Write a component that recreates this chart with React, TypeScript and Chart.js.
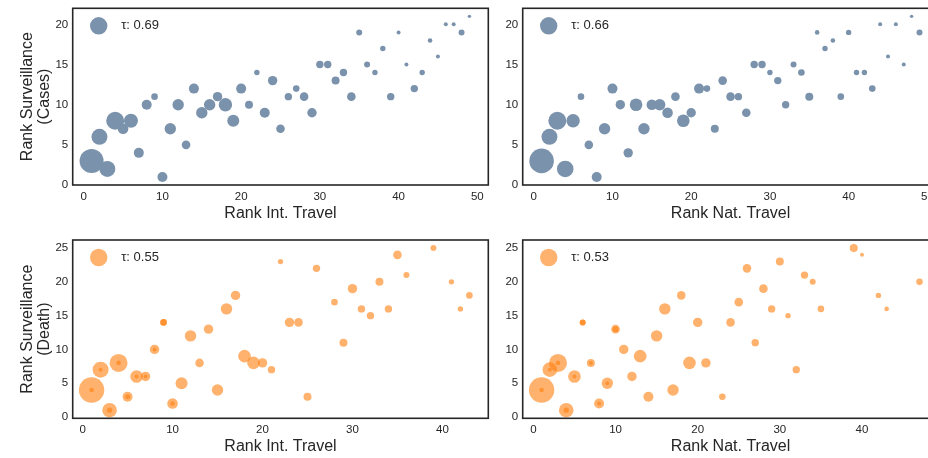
import React, { useEffect, useRef } from "react";
import { Chart, registerables } from "chart.js";
Chart.register(...registerables);

// ---------- data ----------
const casesIntRank = [1,2,3,4,5,6,7,8,9,10,11,12,13,14,15,16,17,18,19,20,21,22,23,24,25,26,27,28,29,30,31,32,33,34,35,36,37,38,39,40,41,42,43,44,45,46,47,48,49];
const casesIntSurv = [3,6,2,8,7,8,4,10,11,1,7,10,5,12,9,10,11,10,8,12,10,14,9,13,7,11,12,11,9,15,15,13,14,11,19,15,14,17,11,19,15,12,14,18,16,20,20,19,21];
const casesIntSize = [12,8,8,9,5.3,7,5,5,3.3,5,5.7,5.7,4.3,5,5.7,5.7,4.7,6.7,6,5,4,2.7,5,4.7,4.3,3.7,3.3,4.3,4.7,3.7,3.7,4,3.7,4.3,3,3,2.7,2.7,3.7,2,2,3.7,2.7,2.3,2,2,2,3,1.7];

const casesNatRank = [1,2,3,4,5,6,7,8,9,10,11,12,13,14,15,16,17,18,19,20,21,22,23,24,25,26,27,28,29,30,31,32,33,34,35,36,37,38,39,40,41,42,43,44,45,46,47,48,49];
const casesNatSurv = [3,6,8,2,8,11,5,1,7,12,10,4,10,7,10,10,9,11,8,9,12,12,7,13,11,11,9,15,15,14,13,10,15,14,11,19,17,18,11,19,14,14,12,20,16,20,15,21,19];
const casesNatSize = [12.3,8,9,8.3,6.7,3.3,4.3,5,5.7,5,4.7,4.7,6.3,5.7,5.3,5.7,5.3,4.3,6.3,4.7,5,3.3,4,4.3,4.3,3.7,4.3,3.7,3.7,2.7,3.7,3.7,3,3.3,4,2.3,2.7,2.3,3.3,2.7,2.7,2.7,3.3,2,2,2,2,1.7,3];

const deathIntRank = [1,2,3,4,5,6,7,8,9,10,11,12,13,14,15,16,17,18,19,20,21,22,23,24,25,26,28,29,30,31,32,33,34,35,36,39,41,42,43];
const deathIntSurv = [4,7,1,8,3,6,6,10,14,2,5,12,8,13,4,16,18,9,8,8,7,23,14,14,3,22,17,11,19,16,15,20,16,24,21,25,20,16,18];
const deathIntSize = [12.7,8,7.3,9,5,6.3,4.7,4.7,3.3,5.3,6,5.7,4.3,4.7,5.7,5.7,4.7,6.3,6.3,4.7,3.7,2.7,4.7,4.3,4,3.7,3.3,4,4.7,3.7,3.7,4,3.7,4.3,3,3,2.7,2.7,3.3];
const deathIntDupRank = [1,2,3,4,5,6,7,8,9,10];
const deathIntDupSurv = [4,7,1,8,3,6,6,10,14,2];
const deathIntDupSize = [2.3,2,2.7,2.3,2.5,2,2,2,3.3,2.3];

const deathNatRank = [1,2,3,4,5,6,7,8,9,10,11,12,13,14,15,16,17,18,19,20,21,23,24,25,26,27,28,29,30,31,32,33,34,35,39,40,42,43,47];
const deathNatSurv = [4,7,8,1,6,14,8,2,5,13,10,6,9,3,12,16,4,18,8,14,8,3,14,17,22,11,19,16,23,15,7,21,20,16,25,24,18,16,20];
const deathNatSize = [12.7,7.3,9,7.3,6.3,3,4,5,5.7,4.3,4.7,4.7,6.3,5,5.7,5.7,5.7,4.3,6.3,4.7,4.7,3.3,4.3,4.3,4.3,3.7,4.3,3.7,4,2.7,3.7,3.7,3,3.3,4,2,2.7,2.3,3.3];
const deathNatDupRank = [1,2,3,4,5,6,7,8,9,10];
const deathNatDupSurv = [4,7,8,1,6,14,8,2,5,13];
const deathNatDupSize = [2.3,2,2.3,2.7,2,3,2,2,2,3];

const tauLabels = ["τ: 0.69", "τ: 0.66", "τ: 0.55", "τ: 0.53"];
const xTicksCases = [0, 10, 20, 30, 40, 50];
const yTicksCases = [0, 5, 10, 15, 20];
const xTicksDeath = [0, 10, 20, 30, 40];
const yTicksDeath = [0, 5, 10, 15, 20, 25];

const BLUE = "rgb(122,146,171)";
const ORANGE = "rgba(255,127,14,0.6)";
const INK = "#262626";
const FONT = "'Liberation Sans', Arial, sans-serif";

const pts = (xs: number[], ys: number[]) => xs.map((x, i) => ({ x, y: ys[i] }));

const framePlugin = {
  id: "frameLegend",
  afterDraw(chart: any, _args: any, opts: any) {
    const { ctx, chartArea } = chart;
    const { left, top, right, bottom } = chartArea;
    ctx.save();
    ctx.fillStyle = opts.color;
    ctx.beginPath();
    ctx.arc(left + 26, top + 17.5, 8.7, 0, Math.PI * 2);
    ctx.fill();
    ctx.fillStyle = INK;
    ctx.font = `13px ${FONT}`;
    ctx.textAlign = "left";
    ctx.textBaseline = "middle";
    ctx.fillText(opts.text, left + 48.5, top + 17);
    ctx.strokeStyle = INK;
    ctx.lineWidth = 1.6;
    ctx.strokeRect(left, top, right - left, bottom - top);
    ctx.restore();
  },
};

type PanelProps = {
  left: number; top: number; width: number; height: number;
  padTop: number; padRight: number;
  yAxisWidth: number; xAxisHeight: number;
  xTitleBottom: number;
  xMin: number; xMax: number; yMin: number; yMax: number;
  xTicks: number[]; yTicks: number[];
  xTitle: string; yTitle: string[] | null;
  datasets: any[]; color: string; tau: string;
};

function Panel(p: PanelProps) {
  const ref = useRef<HTMLCanvasElement | null>(null);
  useEffect(() => {
    if (!ref.current) return;
    const chart = new Chart(ref.current, {
      type: "scatter",
      data: { datasets: p.datasets },
      plugins: [framePlugin],
      options: {
        animation: false,
        responsive: false,
        maintainAspectRatio: false,
        devicePixelRatio: 1,
        layout: { autoPadding: false, padding: { top: p.padTop, right: p.padRight, left: 0, bottom: 0 } },
        plugins: {
          legend: { display: false },
          tooltip: { enabled: false },
          frameLegend: { color: p.color, text: p.tau },
        } as any,
        scales: {
          x: {
            type: "linear",
            min: p.xMin,
            max: p.xMax,
            afterBuildTicks: (s: any) => { s.ticks = p.xTicks.map((v) => ({ value: v })); },
            afterFit: (s: any) => { s.height = p.xAxisHeight; s.paddingLeft = 0; s.paddingRight = 0; },
            grid: { display: false, drawTicks: false },
            border: { display: false },
            ticks: { color: INK, font: { family: FONT, size: 11.5 }, padding: 5, maxRotation: 0, autoSkip: false },
            title: { display: true, text: p.xTitle, color: INK, font: { family: FONT, size: 16 }, padding: { top: 0, bottom: p.xTitleBottom } },
          },
          y: {
            type: "linear",
            min: p.yMin,
            max: p.yMax,
            afterBuildTicks: (s: any) => { s.ticks = p.yTicks.map((v) => ({ value: v })); },
            afterFit: (s: any) => { s.width = p.yAxisWidth; s.paddingTop = 0; s.paddingBottom = 0; },
            grid: { display: false, drawTicks: false },
            border: { display: false },
            ticks: { color: INK, font: { family: FONT, size: 11.5 }, padding: 4.5, autoSkip: false },
            title: p.yTitle
              ? { display: true, text: p.yTitle, color: INK, font: { family: FONT, size: 16, lineHeight: "17px" }, padding: { top: 19, bottom: 0 } }
              : { display: false },
          },
        },
      } as any,
    });
    return () => chart.destroy();
  }, []);
  return (
    <canvas
      ref={ref}
      width={p.width}
      height={p.height}
      style={{ position: "absolute", left: p.left, top: p.top, width: p.width, height: p.height }}
    />
  );
}

const ds = (xs: number[], ys: number[], sizes: number[], color: string) => ({
  data: pts(xs, ys),
  pointRadius: sizes,
  pointHoverRadius: sizes,
  pointBackgroundColor: color,
  pointBorderWidth: 0,
  showLine: false,
  clip: false,
});

export default function App() {
  return (
    <div style={{ position: "fixed", left: 0, top: 0, width: 928, height: 458, overflow: "hidden", background: "#fff" }}>
      <Panel
        left={0} top={0} width={490} height={230} padTop={8.3} padRight={1.7}
        yAxisWidth={72.7} xAxisHeight={45} xTitleBottom={6.6}
        xMin={-1.4} xMax={51.4} yMin={0} yMax={22}
        xTicks={xTicksCases} yTicks={yTicksCases}
        xTitle="Rank Int. Travel" yTitle={["Rank Surveillance", "(Cases)"]}
        datasets={[ds(casesIntRank, casesIntSurv, casesIntSize, BLUE)]}
        color={BLUE} tau={tauLabels[0]}
      />
      <Panel
        left={490} top={0} width={450} height={230} padTop={8.3} padRight={1.6}
        yAxisWidth={32.7} xAxisHeight={45} xTitleBottom={6.6}
        xMin={-1.4} xMax={51.4} yMin={0} yMax={22}
        xTicks={xTicksCases} yTicks={yTicksCases}
        xTitle="Rank Nat. Travel" yTitle={null}
        datasets={[ds(casesNatRank, casesNatSurv, casesNatSize, BLUE)]}
        color={BLUE} tau={tauLabels[1]}
      />
      <Panel
        left={0} top={230} width={490} height={228} padTop={10} padRight={1.7}
        yAxisWidth={72.7} xAxisHeight={39.7} xTitleBottom={1.9}
        xMin={-1.1} xMax={45.1} yMin={-0.2} yMax={26.2}
        xTicks={xTicksDeath} yTicks={yTicksDeath}
        xTitle="Rank Int. Travel" yTitle={["Rank Surveillance", "(Death)"]}
        datasets={[
          ds(deathIntRank, deathIntSurv, deathIntSize, ORANGE),
          ds(deathIntDupRank, deathIntDupSurv, deathIntDupSize, ORANGE),
        ]}
        color={ORANGE} tau={tauLabels[2]}
      />
      <Panel
        left={490} top={230} width={450} height={228} padTop={10} padRight={1.6}
        yAxisWidth={32.7} xAxisHeight={39.7} xTitleBottom={1.9}
        xMin={-1.3} xMax={49.3} yMin={-0.2} yMax={26.2}
        xTicks={xTicksDeath} yTicks={yTicksDeath}
        xTitle="Rank Nat. Travel" yTitle={null}
        datasets={[
          ds(deathNatRank, deathNatSurv, deathNatSize, ORANGE),
          ds(deathNatDupRank, deathNatDupSurv, deathNatDupSize, ORANGE),
        ]}
        color={ORANGE} tau={tauLabels[3]}
      />
    </div>
  );
}
